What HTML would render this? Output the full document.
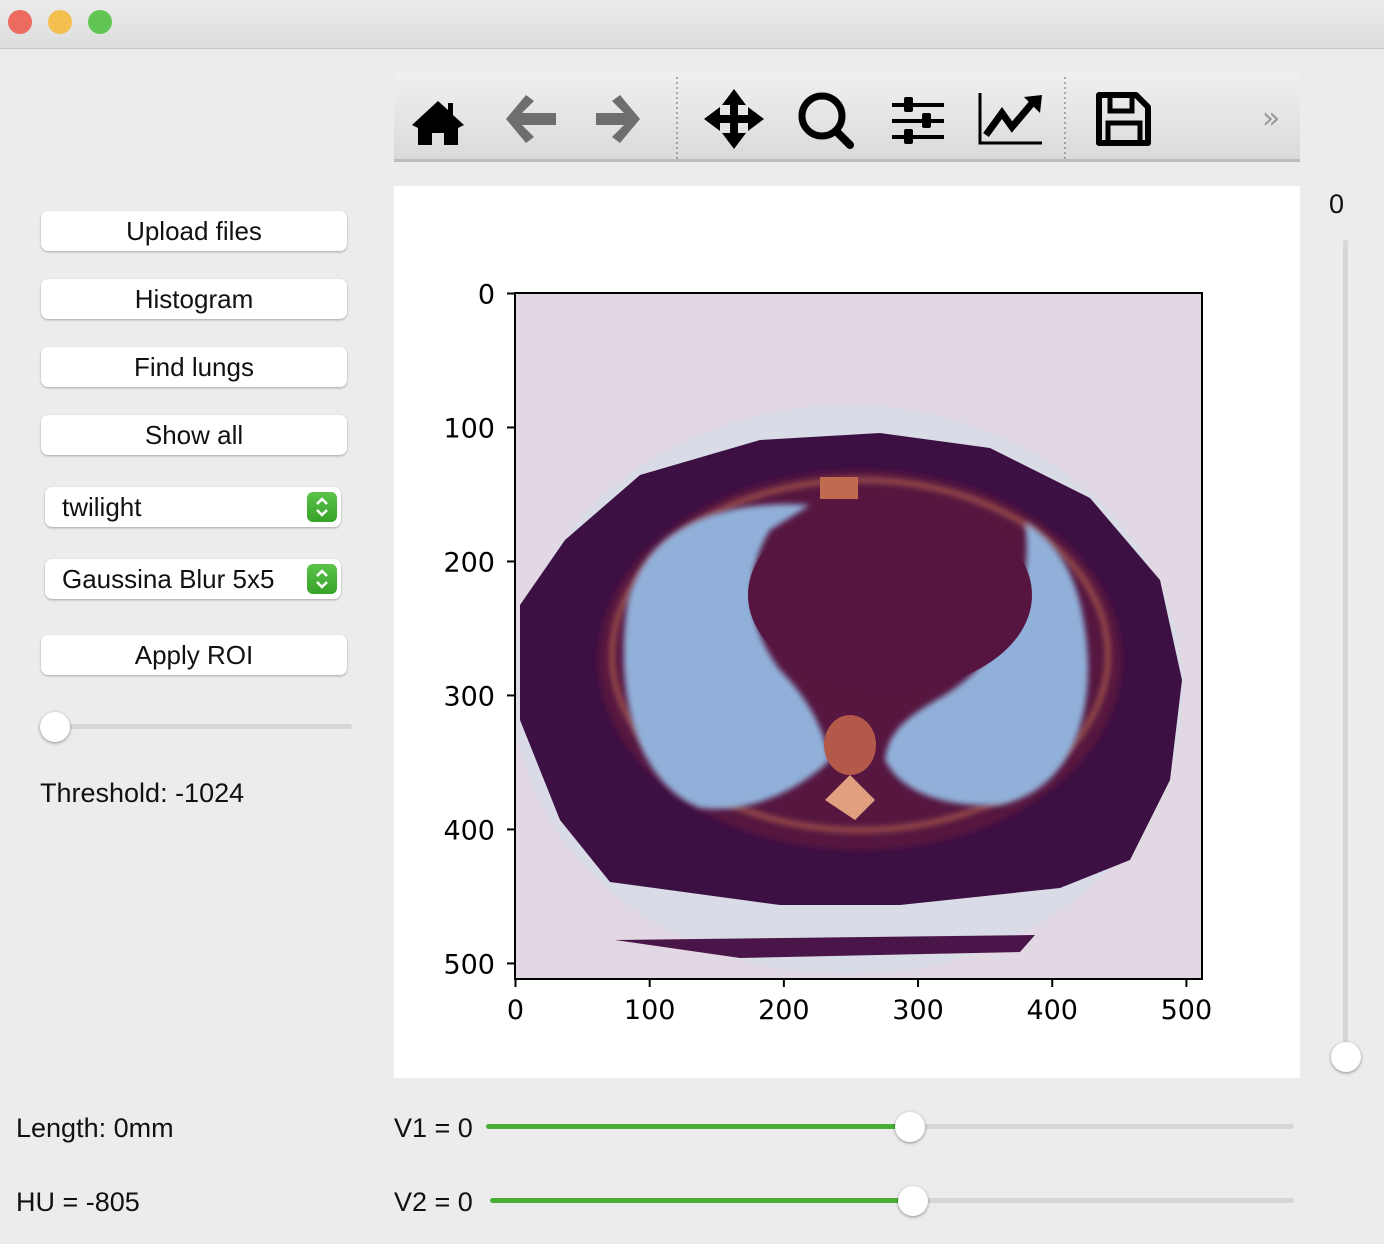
<!DOCTYPE html>
<html><head><meta charset="utf-8"><style>
body{margin:0;width:1384px;height:1244px;background:#ececec;font-family:"Liberation Sans",sans-serif;position:relative;overflow:hidden}
.abs{position:absolute}
.titlebar{left:0;top:0;width:1384px;height:48px;background:linear-gradient(#ececec,#dcdcdc);border-bottom:1px solid #c4c4c4}
.dot{width:24px;height:24px;border-radius:50%;top:10px}
.btn{left:41px;width:306px;height:40px;background:#fff;border-radius:7px;box-shadow:0 1px 2px rgba(0,0,0,.3);font-size:26px;text-align:center;line-height:40px;color:#111}
.combo{left:45px;width:296px;height:40px;background:#fff;border-radius:7px;box-shadow:0 1px 2px rgba(0,0,0,.3);font-size:26px;line-height:40px;color:#111}
.combo span{margin-left:17px}
.arrowbox{position:absolute;right:4px;top:5px;width:30px;height:30px;border-radius:6px;background:linear-gradient(#5cc24a,#37a22a)}
.lbl{font-size:27px;color:#111}
.track{height:5px;background:#d6d6d6;border-radius:3px}
.knob{width:30px;height:30px;border-radius:50%;background:#fff;box-shadow:0 1px 3px rgba(0,0,0,.4)}
</style></head><body>
<div class="abs titlebar"></div>
<div class="abs dot" style="left:8px;background:#ed6a5e"></div>
<div class="abs dot" style="left:48px;background:#f5bf4f"></div>
<div class="abs dot" style="left:88px;background:#61c554"></div>

<div class="abs" style="left:394px;top:73px;width:906px;height:86px;background:linear-gradient(#f0f0f0,#dadada);border-bottom:3px solid #bdbdbd">
<svg width="906" height="86">
<line x1="283" y1="4" x2="283" y2="86" stroke="#666" stroke-dasharray="2,3"/>
<line x1="671" y1="4" x2="671" y2="86" stroke="#666" stroke-dasharray="2,3"/>
<g><path d="M44 28 L18 52 L24 55 L24 72 L38 72 L38 60 L50 60 L50 72 L64 72 L64 55 L70 52 L59 42 L59 30 L54 30 L54 37Z" fill="#000"/></g>
<g><path d="M132 22 L112 46 L132 70 L140 64 L128 52 L162 52 L162 40 L128 40 L140 28Z" fill="#6e6e6e"/></g>
<g><path d="M226 22 L246 46 L226 70 L218 64 L230 52 L202 52 L202 40 L230 40 L218 28Z" fill="#6e6e6e"/></g>
<g fill="#000"><path d="M340 16 L352 32 L344 32 L344 42 L354 42 L354 34 L370 46 L354 58 L354 50 L344 50 L344 60 L352 60 L340 76 L328 60 L336 60 L336 50 L326 50 L326 58 L310 46 L326 34 L326 42 L336 42 L336 32 L328 32Z"/></g>
<g><circle cx="428" cy="43" r="20" stroke="#000" stroke-width="7" fill="none"/><line x1="442" y1="58" x2="456" y2="72" stroke="#000" stroke-width="8" stroke-linecap="round"/></g>
<g fill="#000"><rect x="498" y="30" width="52" height="4"/><rect x="498" y="46" width="52" height="4"/><rect x="498" y="62" width="52" height="4"/><rect x="510" y="24" width="9" height="15" rx="2"/><rect x="528" y="40" width="9" height="15" rx="2"/><rect x="510" y="56" width="9" height="15" rx="2"/></g>
<g><path d="M586 20 L586 70 L648 70" stroke="#000" stroke-width="3" fill="none"/><path d="M592 62 L608 40 L618 54 L640 28" stroke="#000" stroke-width="7" fill="none"/><path d="M630 24 L648 22 L646 40Z" fill="#000"/></g>
<g><path d="M705 22 L742 22 L754 34 L754 70 L705 70Z" stroke="#000" stroke-width="6" fill="none" stroke-linejoin="round"/><rect x="716" y="22" width="22" height="16" fill="none" stroke="#000" stroke-width="5"/><rect x="714" y="50" width="32" height="20" fill="none" stroke="#000" stroke-width="5"/></g>
<text x="868" y="55" font-size="30" fill="#999" font-family="DejaVu Sans">»</text>
</svg></div>

<div class="abs btn" style="top:211px">Upload files</div>
<div class="abs btn" style="top:279px">Histogram</div>
<div class="abs btn" style="top:347px">Find lungs</div>
<div class="abs btn" style="top:415px">Show all</div>
<div class="abs combo" style="top:487px"><span>twilight</span><div class="arrowbox"><svg width="30" height="30"><path d="M10 12 L15 7 L20 12 M10 18 L15 23 L20 18" stroke="#fff" stroke-width="2.5" fill="none"/></svg></div></div>
<div class="abs combo" style="top:559px"><span>Gaussina Blur 5x5</span><div class="arrowbox"><svg width="30" height="30"><path d="M10 12 L15 7 L20 12 M10 18 L15 23 L20 18" stroke="#fff" stroke-width="2.5" fill="none"/></svg></div></div>
<div class="abs btn" style="top:635px">Apply ROI</div>
<div class="abs track" style="left:42px;top:724px;width:310px"></div>
<div class="abs knob" style="left:40px;top:712px"></div>
<div class="abs lbl" style="left:40px;top:778px">Threshold: -1024</div>

<div class="abs lbl" style="left:1329px;top:189px">0</div>
<div class="abs" style="left:1343px;top:240px;width:5px;height:820px;background:#d6d6d6;border-radius:3px"></div>
<div class="abs knob" style="left:1331px;top:1042px"></div>

<div class="abs lbl" style="left:16px;top:1113px">Length: 0mm</div>
<div class="abs lbl" style="left:16px;top:1187px">HU = -805</div>
<div class="abs lbl" style="left:394px;top:1113px">V1 = 0</div>
<div class="abs lbl" style="left:394px;top:1187px">V2 = 0</div>
<div class="abs track" style="left:486px;top:1124px;width:808px"></div>
<div class="abs" style="left:486px;top:1124px;width:424px;height:5px;background:#4aad34;border-radius:3px"></div>
<div class="abs knob" style="left:895px;top:1112px"></div>
<div class="abs track" style="left:490px;top:1198px;width:804px"></div>
<div class="abs" style="left:490px;top:1198px;width:423px;height:5px;background:#4aad34;border-radius:3px"></div>
<div class="abs knob" style="left:898px;top:1186px"></div>

<svg class="abs" id="plot" style="left:394px;top:186px" width="906" height="892">
<rect width="906" height="892" fill="#fff"/>
<defs><filter id="bl" x="-20%" y="-20%" width="140%" height="140%"><feGaussianBlur stdDeviation="3"/></filter><clipPath id="cp"><rect x="121" y="107" width="687" height="686"/></clipPath></defs>
<rect x="121" y="107" width="687" height="686" fill="#e2d8e3"/>
<g clip-path="url(#cp)">
<g transform="translate(-394,-186)">
<ellipse cx="848" cy="690" rx="335" ry="285" fill="#d4dde8" opacity="0.6"/>
<path d="M520 605 L565 540 L640 475 L760 440 L880 433 L990 448 L1090 498 L1160 580 L1182 680 L1170 780 L1130 860 L1060 888 L900 905 L780 905 L610 882 L560 820 L520 720 Z" fill="#3c1042"/>
<ellipse cx="860" cy="660" rx="262" ry="190" fill="#561740" filter="url(#bl)"/>
<ellipse cx="860" cy="655" rx="248" ry="175" fill="none" stroke="#c0704f" stroke-width="6" opacity="0.6" filter="url(#bl)"/>
<path d="M810 505 C730 500,650 520,628 600 C615 680,630 780,700 808 C760 815,810 780,830 760 C822 720,800 690,780 670 C750 630,740 580,770 530Z" fill="#91b0d9" filter="url(#bl)"/>
<path d="M1025 522 C1070 550,1085 600,1088 660 C1090 720,1070 790,1000 805 C940 808,900 790,885 760 C888 730,910 715,945 695 C1000 660,1035 600,1025 522Z" fill="#91b0d9" filter="url(#bl)"/>
<ellipse cx="890" cy="595" rx="142" ry="95" fill="#561540"/>
<ellipse cx="850" cy="745" rx="26" ry="30" fill="#b4584a"/>
<path d="M825 800 L850 775 L875 800 L855 820Z" fill="#e0a080"/>
<rect x="820" y="477" width="38" height="22" fill="#c06a50"/>
<path d="M615 940 L1035 935 L1020 952 L740 958Z" fill="#4a1548"/>
</g></g>
<g id="axes"></g>
</svg>
<script>
const xTicks=[0,100,200,300,400,500];
const yTicks=[0,100,200,300,400,500];
const imgMax=512;
const NS="http://www.w3.org/2000/svg";
const ax=document.getElementById('axes');
const X0=121,Y0=107,W=687,H=686;
function xs(v){return X0+0.5+v/imgMax*W;}
function ys(v){return Y0+0.5+v/imgMax*H;}
function mk(t,a){const e=document.createElementNS(NS,t);for(const k in a)e.setAttribute(k,a[k]);ax.appendChild(e);return e;}
const fr=mk('rect',{x:X0,y:Y0,width:W,height:H,fill:'none',stroke:'#000','stroke-width':2});


xTicks.forEach(v=>{
 const l=mk('line',{x1:xs(v),x2:xs(v),y1:Y0+H,y2:Y0+H+8,stroke:'#000','stroke-width':2});
 
 
 const t=mk('text',{x:xs(v),y:Y0+H+40,'text-anchor':'middle','font-size':27,'font-family':'DejaVu Sans, sans-serif'});
 t.textContent=v;
 
 
});
yTicks.forEach(v=>{
 const l=mk('line',{x1:X0-8,x2:X0,y1:ys(v),y2:ys(v),stroke:'#000','stroke-width':2});
 
 
 const t=mk('text',{x:X0-20,y:ys(v)+10,'text-anchor':'end','font-size':27,'font-family':'DejaVu Sans, sans-serif'});
 t.textContent=v;
 
 
});
</script>
</body></html>
